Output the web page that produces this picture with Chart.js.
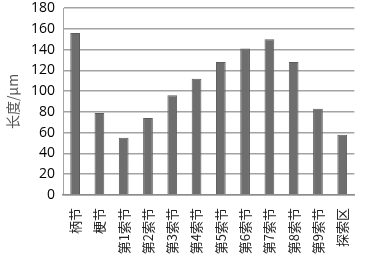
<!DOCTYPE html>
<html lang="zh">
<head>
  <meta charset="UTF-8">
  <title>长度</title>
  <script src="https://cdn.jsdelivr.net/npm/chart.js"></script>
  <style>
    html, body { margin: 0; padding: 0; background: #fff; }
    #wrap { width: 371px; height: 260px; }
  </style>
</head>
<body>
  <div id="wrap"><canvas id="grafico"></canvas></div>
  <script>
    const categorias = ["柄节", "梗节", "第1索节", "第2索节", "第3索节", "第4索节", "第5索节", "第6索节", "第7索节", "第8索节", "第9索节", "探索区"];
    const comprimentos = [156, 79, 55, 74, 96, 112, 128, 141, 150, 128, 83, 58];
    const tituloY = "长度/μm";

    const ctx = document.getElementById("grafico").getContext("2d");
    new Chart(ctx, {
      type: "bar",
      data: {
        labels: categorias,
        datasets: [{
          data: comprimentos,
          backgroundColor: "#6e6e6e",
          borderColor: "#5c5c5c",
          borderWidth: 1,
          barPercentage: 0.4,
          categoryPercentage: 1
        }]
      },
      options: {
        responsive: true,
        maintainAspectRatio: false,
        animation: false,
        layout: { padding: { left: 0, right: 4, top: 0, bottom: 0 } },
        plugins: { legend: { display: false }, tooltip: { enabled: false } },
        scales: {
          y: {
            min: 0,
            max: 180,
            ticks: { stepSize: 20, autoSkip: false, color: "#000", font: { family: "Open Sans", size: 14 }, padding: 8 },
            grid: { color: "#a3a3a3", lineWidth: 1.5, drawTicks: false },
            border: { color: "#a3a3a3", width: 1 },
            title: { display: true, text: tituloY, color: "#555", font: { family: "Noto Sans CJK SC", size: 14 }, padding: 4 },
            afterFit: (scale) => { scale.width = 63; scale.paddingTop = 8; }
          },
          x: {
            ticks: { minRotation: 90, maxRotation: 90, autoSkip: false, color: "#222", font: { family: "Noto Sans CJK SC", size: 13 }, padding: 13 },
            grid: { display: false, drawTicks: false },
            border: { color: "#8c8c8c", width: 1.5 },
            afterFit: (scale) => { scale.height = 65; }
          }
        }
      }
    });
  </script>
</body>
</html>
